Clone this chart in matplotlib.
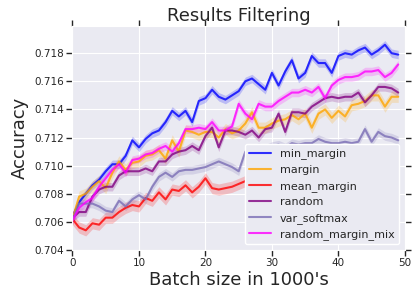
import numpy as np
import matplotlib
matplotlib.use("Agg")
import matplotlib.pyplot as plt
import seaborn as sns

# Datos (x = 0..49, en miles)
batch = list(range(50))

min_margin = [0.7064, 0.7074, 0.7080, 0.7086, 0.7090, 0.7096, 0.7101, 0.7101, 0.7107, 0.7118,
              0.7113, 0.7119, 0.7123, 0.7125, 0.7131, 0.7139, 0.7135, 0.7139, 0.7131, 0.7146,
              0.7148, 0.7154, 0.7149, 0.7147, 0.7150, 0.7153, 0.7160, 0.7162, 0.7158, 0.7154,
              0.7166, 0.7157, 0.7167, 0.7175, 0.7162, 0.7166, 0.7178, 0.7173, 0.7173, 0.7166,
              0.7178, 0.7180, 0.7179, 0.7182, 0.7184, 0.7179, 0.7182, 0.7186, 0.7180, 0.7179]

margin = [0.7062, 0.7078, 0.7080, 0.7085, 0.7089, 0.7084, 0.7095, 0.7103, 0.7097, 0.7102,
          0.7103, 0.7107, 0.7108, 0.7111, 0.7105, 0.7118, 0.7110, 0.7125, 0.7124, 0.7122,
          0.7124, 0.7124, 0.7120, 0.7126, 0.7123, 0.7125, 0.7130, 0.7138, 0.7127, 0.7127,
          0.7130, 0.7132, 0.7133, 0.7136, 0.7133, 0.7137, 0.7127, 0.7137, 0.7140, 0.7134,
          0.7139, 0.7135, 0.7143, 0.7144, 0.7146, 0.7150, 0.7150, 0.7142, 0.7149, 0.7149]

mean_margin = [0.7062, 0.7056, 0.7054, 0.7059, 0.7058, 0.7063, 0.7063, 0.7067, 0.7070, 0.7072,
               0.7071, 0.7077, 0.7075, 0.7081, 0.7076, 0.7083, 0.7082, 0.7086, 0.7081, 0.7085,
               0.7091, 0.7084, 0.7083, 0.7084, 0.7085, 0.7087, 0.7089, 0.7088, 0.7090, 0.7089,
               0.7091, 0.7090, 0.7092, 0.7091, 0.7093, 0.7092, 0.7093, 0.7094, 0.7092, 0.7094,
               0.7095, 0.7093, 0.7095, 0.7096, 0.7094, 0.7096, 0.7097, 0.7095, 0.7097, 0.7096]

random = [0.7063, 0.7067, 0.7067, 0.7078, 0.7083, 0.7085, 0.7085, 0.7093, 0.7096, 0.7096,
          0.7096, 0.7098, 0.7096, 0.7103, 0.7103, 0.7108, 0.7110, 0.7111, 0.7114, 0.7111,
          0.7121, 0.7127, 0.7113, 0.7125, 0.7125, 0.7124, 0.7122, 0.7125, 0.7120, 0.7126,
          0.7127, 0.7137, 0.7124, 0.7138, 0.7138, 0.7137, 0.7142, 0.7145, 0.7148, 0.7149,
          0.7148, 0.7149, 0.7149, 0.7152, 0.7145, 0.7150, 0.7156, 0.7156, 0.7155, 0.7152]

var_softmax = [0.7061, 0.7073, 0.7073, 0.7073, 0.7071, 0.7068, 0.7067, 0.7075, 0.7071, 0.7076,
               0.7079, 0.7076, 0.7085, 0.7092, 0.7095, 0.7092, 0.7096, 0.7097, 0.7097, 0.7098,
               0.7099, 0.7101, 0.7103, 0.7101, 0.7099, 0.7096, 0.7110, 0.7112, 0.7113, 0.7112,
               0.7114, 0.7115, 0.7113, 0.7116, 0.7115, 0.7116, 0.7116, 0.7119, 0.7117, 0.7116,
               0.7116, 0.7117, 0.7116, 0.7117, 0.7126, 0.7117, 0.7124, 0.7121, 0.7120, 0.7118]

random_margin_mix = [0.7061, 0.7070, 0.7074, 0.7077, 0.7085, 0.7091, 0.7097, 0.7101, 0.7095, 0.7104,
                     0.7105, 0.7108, 0.7109, 0.7112, 0.7114, 0.7110, 0.7116, 0.7126, 0.7126, 0.7127,
                     0.7126, 0.7131, 0.7125, 0.7125, 0.7128, 0.7144, 0.7137, 0.7133, 0.7144, 0.7142,
                     0.7142, 0.7146, 0.7149, 0.7152, 0.7152, 0.7154, 0.7152, 0.7156, 0.7148, 0.7157,
                     0.7161, 0.7163, 0.7163, 0.7164, 0.7167, 0.7167, 0.7168, 0.7163, 0.7166, 0.7172]

# semi-ancho de la banda sombreada por serie
bandas = [0.0003, 0.0004, 0.0004, 0.0003, 0.0003, 0.0003]

nombres = ["min_margin", "margin", "mean_margin", "random", "var_softmax", "random_margin_mix"]
series = [min_margin, margin, mean_margin, random, var_softmax, random_margin_mix]
colores = ["blue", "orange", "red", "purple", "#7a6db5", "magenta"]

sns.set_style("darkgrid")
plt.rcParams['font.family'] = ['DejaVu Sans']

fig = plt.figure(figsize=(4.2, 2.99), dpi=100)
ax = fig.add_axes([0.1726, 0.1639, 0.7914, 0.7475])

for nombre, ys, c, b in zip(nombres, series, colores, bandas):
    ys = np.array(ys)
    ax.fill_between(batch, ys - b, ys + b, color=c, alpha=0.2, linewidth=0)
    ax.plot(batch, ys, color=c, alpha=0.8, linewidth=1.5, label=nombre)

ax.set_xlim(0, 50)
ax.set_ylim(0.704, 0.7199)
ax.set_xticks([0, 10, 20, 30, 40, 50])
ax.set_yticks([0.704, 0.706, 0.708, 0.710, 0.712, 0.714, 0.716, 0.718])
ax.tick_params(axis='both', which='both', direction='out', length=4, width=1,
               color='#262626', labelsize=7.5, labelcolor='#262626',
               top=True, right=True, bottom=True, left=True, pad=2)

ax.set_title("Results Filtering", fontsize=13, color='#262626', pad=4)
ax.set_xlabel("Batch size in 1000's", fontsize=13, color='#262626', labelpad=2)
ax.set_ylabel("Accuracy", fontsize=13, color='#262626', labelpad=4)

leg = ax.legend(loc='lower right', fontsize=8, frameon=True, facecolor='#eaeaf2',
                edgecolor='white', framealpha=1.0, handlelength=2.0)
leg.set_zorder(5)

plt.savefig("out.png", dpi=100)
